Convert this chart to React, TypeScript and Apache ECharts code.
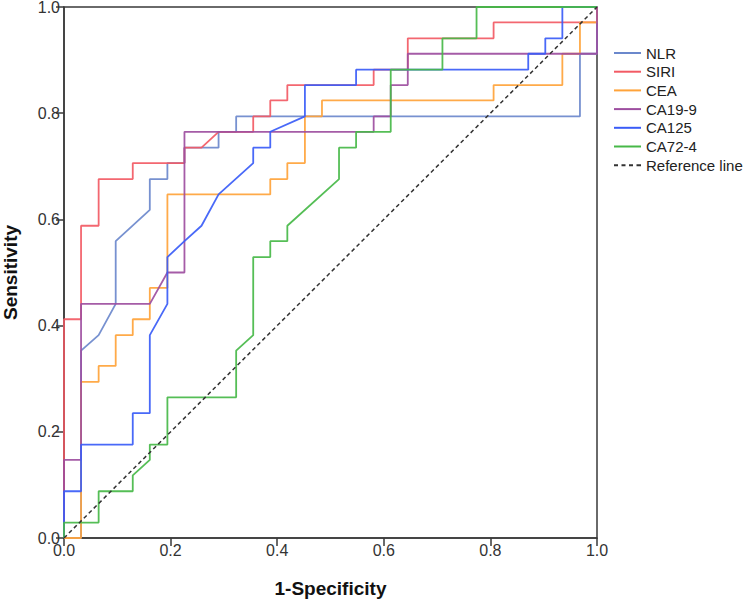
import React, { useEffect, useRef } from "react";
import * as echarts from "echarts";

const seriesNames = ["NLR", "SIRI", "CEA", "CA19-9", "CA125", "CA72-4", "Reference line"];
const seriesColors = ["#6b88cc", "#f25a64", "#ffa33a", "#9d4ea0", "#3a5cf7", "#47b848", "#333333"];
const axisTicks = [0, 0.2, 0.4, 0.6, 0.8, 1.0];

const nlrX = [0, 0.032, 0.032, 0.065, 0.097, 0.097, 0.161, 0.161, 0.194, 0.194, 0.226, 0.226, 0.29, 0.29, 0.323, 0.323, 0.968, 0.968, 1, 1];
const nlrY = [0, 0, 0.353, 0.382, 0.441, 0.559, 0.618, 0.676, 0.676, 0.706, 0.706, 0.735, 0.735, 0.765, 0.765, 0.794, 0.794, 0.912, 0.912, 1];

const siriX = [0, 0, 0.032, 0.032, 0.065, 0.065, 0.129, 0.129, 0.226, 0.226, 0.258, 0.29, 0.355, 0.355, 0.387, 0.387, 0.419, 0.419, 0.581, 0.581, 0.645, 0.645, 0.806, 0.806, 1, 1];
const siriY = [0, 0.412, 0.412, 0.588, 0.588, 0.676, 0.676, 0.706, 0.706, 0.735, 0.735, 0.765, 0.765, 0.794, 0.794, 0.824, 0.824, 0.853, 0.853, 0.882, 0.882, 0.941, 0.941, 0.971, 0.971, 1];

const ceaX = [0, 0.032, 0.032, 0.065, 0.065, 0.097, 0.097, 0.129, 0.129, 0.161, 0.161, 0.194, 0.194, 0.387, 0.387, 0.419, 0.419, 0.452, 0.452, 0.484, 0.484, 0.806, 0.806, 0.935, 0.935, 0.968, 0.968, 1, 1];
const ceaY = [0, 0, 0.294, 0.294, 0.324, 0.324, 0.382, 0.382, 0.412, 0.412, 0.471, 0.471, 0.647, 0.647, 0.676, 0.676, 0.706, 0.706, 0.794, 0.794, 0.824, 0.824, 0.853, 0.853, 0.912, 0.912, 0.971, 0.971, 1];

const ca199X = [0, 0, 0.032, 0.032, 0.161, 0.194, 0.226, 0.226, 0.581, 0.581, 0.613, 0.613, 0.645, 0.645, 1, 1];
const ca199Y = [0, 0.147, 0.147, 0.441, 0.441, 0.5, 0.5, 0.765, 0.765, 0.794, 0.794, 0.853, 0.853, 0.912, 0.912, 1];

const ca125X = [0, 0, 0.032, 0.032, 0.129, 0.129, 0.161, 0.161, 0.194, 0.194, 0.226, 0.258, 0.29, 0.355, 0.355, 0.387, 0.387, 0.452, 0.452, 0.548, 0.548, 0.871, 0.871, 0.903, 0.903, 0.935, 0.935, 1];
const ca125Y = [0, 0.088, 0.088, 0.176, 0.176, 0.235, 0.235, 0.382, 0.441, 0.529, 0.559, 0.588, 0.647, 0.706, 0.735, 0.735, 0.765, 0.794, 0.853, 0.853, 0.882, 0.882, 0.912, 0.912, 0.941, 0.941, 1, 1];

const ca724X = [0, 0, 0.065, 0.065, 0.129, 0.129, 0.161, 0.161, 0.194, 0.194, 0.323, 0.323, 0.355, 0.355, 0.387, 0.387, 0.419, 0.419, 0.516, 0.516, 0.548, 0.548, 0.613, 0.613, 0.71, 0.71, 0.774, 0.774, 1];
const ca724Y = [0, 0.029, 0.029, 0.088, 0.088, 0.118, 0.147, 0.176, 0.176, 0.265, 0.265, 0.353, 0.382, 0.529, 0.529, 0.559, 0.559, 0.588, 0.676, 0.735, 0.735, 0.765, 0.765, 0.882, 0.882, 0.941, 0.941, 1, 1];

const refX = [0, 1];
const refY = [0, 1];

const curveX = [nlrX, siriX, ceaX, ca199X, ca125X, ca724X, refX];
const curveY = [nlrY, siriY, ceaY, ca199Y, ca125Y, ca724Y, refY];

const FONT = "'Liberation Sans', Arial, sans-serif";

const SOLID_ICON = "path://M0 0h27v2H0z";
const DASH_ICON = "path://M0 0h4v2H0zM7.5 0h4v2H7.5zM15 0h4v2H15zM22.5 0h4.5v2H22.5z";

export default function App() {
  const ref = useRef<HTMLDivElement>(null);
  useEffect(() => {
    if (!ref.current) return;
    const chart = echarts.init(ref.current, undefined, { renderer: "svg" });
    const axisCommon = {
      type: "value",
      min: axisTicks[0],
      max: axisTicks[axisTicks.length - 1],
      interval: 0.2,
      splitLine: { show: false },
      axisLine: { show: true, lineStyle: { color: "#3a3a3a", width: 1.5 } },
      axisTick: { show: true, length: 8, lineStyle: { color: "#3a3a3a", width: 1.5 } },
      nameLocation: "middle",
      nameTextStyle: { fontSize: 19, fontWeight: "bold", color: "#111", fontFamily: FONT },
    };
    const labelCommon = {
      fontSize: 16,
      color: "#333",
      fontFamily: FONT,
      formatter: (v: number) => v.toFixed(1),
    };
    const series = seriesNames.map((name, k) => ({
      name,
      type: "line",
      symbol: "none",
      silent: true,
      data: curveX[k].map((x, i) => [x, curveY[k][i]]),
      lineStyle: {
        color: seriesColors[k],
        width: k === 6 ? 1.5 : 1.8,
        type: k === 6 ? [4, 3] : "solid",
        opacity: k === 6 ? 1 : 0.92,
      },
      itemStyle: { color: seriesColors[k], borderWidth: 0 },
      z: 2 + k,
    }));
    chart.setOption({
      animation: false,
      backgroundColor: "#ffffff",
      grid: {
        left: 64,
        top: 7,
        right: 147,
        bottom: 67,
        containLabel: false,
        outerBoundsMode: "none",
        show: true,
        borderColor: "#3a3a3a",
        borderWidth: 1.5,
      },
      xAxis: {
        ...axisCommon,
        name: "1-Specificity",
        nameGap: 41,
        axisLabel: { ...labelCommon, margin: 4 },
      },
      yAxis: {
        ...axisCommon,
        name: "Sensitivity",
        nameGap: 44,
        axisLabel: { ...labelCommon, margin: 4 },
      },
      legend: {
        data: seriesNames.map((n, k) => ({ name: n, icon: k === 6 ? DASH_ICON : SOLID_ICON })),
        orient: "vertical",
        left: 614,
        top: 44,
        padding: 0,
        itemWidth: 27,
        itemHeight: 10,
        itemGap: 0.7,
        itemStyle: { borderWidth: 0 },
        textStyle: { fontSize: 15, lineHeight: 18, color: "#222", fontFamily: FONT },
      },
      series,
    });
    return () => chart.dispose();
  }, []);
  return (
    <div
      ref={ref}
      style={{ position: "absolute", left: 0, top: 0, width: 744, height: 605, background: "#fff" }}
    />
  );
}
